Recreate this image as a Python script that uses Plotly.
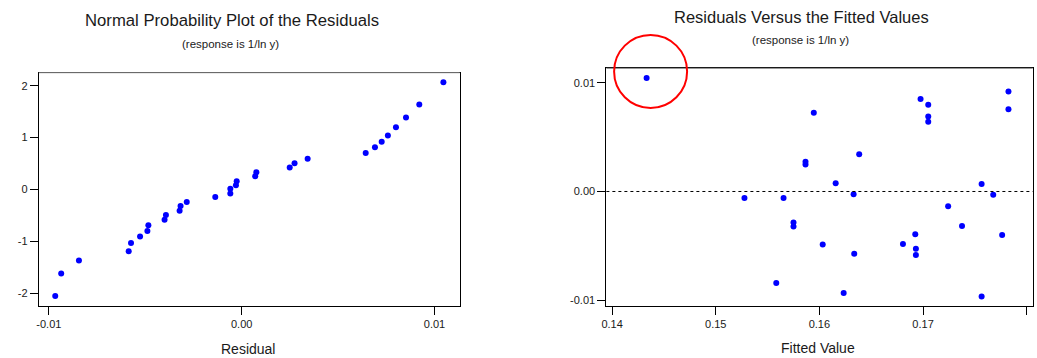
import plotly.graph_objects as go

# Residuals (sorted ascending) with the fitted value of each observation
residuals = [-0.00967, -0.00936, -0.00844, -0.00586, -0.00574, -0.00527, -0.00489,
             -0.00484, -0.00400, -0.00393, -0.00322, -0.00317, -0.00285, -0.00137,
             -0.00059, -0.00059, -0.00030, -0.00026, 0.00070, 0.00076, 0.00249,
             0.00274, 0.00342, 0.00643, 0.00691, 0.00726, 0.00758, 0.00800,
             0.00852, 0.00921, 0.01046]
fitted = [0.17565, 0.16234, 0.15584, 0.16931, 0.16336, 0.16931, 0.16032,
          0.16806, 0.17763, 0.16925, 0.15750, 0.17376, 0.15750, 0.17242,
          0.15277, 0.15654, 0.17677, 0.16330, 0.17565, 0.16157, 0.15866,
          0.15866, 0.16384, 0.17050, 0.17050, 0.15946, 0.17824, 0.17050,
          0.16976, 0.17824, 0.14333]
normal_scores = [-2.051, -1.617, -1.367, -1.188, -1.029, -0.907, -0.799, -0.690,
                 -0.581, -0.492, -0.409, -0.319, -0.243, -0.147, -0.077, 0.013,
                 0.083, 0.160, 0.256, 0.332, 0.422, 0.505, 0.594, 0.703, 0.812,
                 0.920, 1.042, 1.201, 1.387, 1.636, 2.064]

resid_ticks = [-0.01, 0.0, 0.01]
resid_labels = ["-0.01", "0.00", "0.01"]
score_ticks = [-2, -1, 0, 1, 2]
score_labels = ["-2", "-1", "0", "1", "2"]
fit_ticks = [0.14, 0.15, 0.16, 0.17, 0.18]
fit_labels = ["0.14", "0.15", "0.16", "0.17", "0.18"]

# Observation flagged with a circle (the largest residual)
flag_index = len(residuals) - 1

FONT = "Liberation Sans, Arial, sans-serif"
TEXT = "#1a1a1a"
BLUE = "#0000FF"

x1_range = [-0.01052, 0.01131]
y1_range = [-2.244, 2.25]
x2_range = [0.13945, 0.18058]
y2_range = [-0.01055, 0.01135]

fig = go.Figure()
fig.add_trace(go.Scatter(x=residuals, y=normal_scores, mode="markers",
                         marker=dict(color=BLUE, size=6), xaxis="x", yaxis="y",
                         showlegend=False, hoverinfo="x+y"))
fig.add_trace(go.Scatter(x=fitted, y=residuals, mode="markers",
                         marker=dict(color=BLUE, size=6), xaxis="x2", yaxis="y2",
                         showlegend=False, hoverinfo="x+y"))

axis_common = dict(showline=True, linecolor="black", linewidth=1, mirror=True,
                   ticks="outside", ticklen=8, tickcolor="black", tickwidth=1,
                   showgrid=False, zeroline=False, fixedrange=True,
                   tickfont=dict(family=FONT, size=11, color=TEXT))

fig.update_layout(
    width=1037, height=358,
    margin=dict(l=0, r=0, t=0, b=0),
    paper_bgcolor="white", plot_bgcolor="white",
    xaxis=dict(domain=[34 / 1037, 457 / 1037], range=x1_range, anchor="y",
               tickvals=resid_ticks, ticktext=resid_labels, **axis_common),
    yaxis=dict(domain=[0.1453, 0.797], range=y1_range, anchor="x",
               tickvals=score_ticks, ticktext=score_labels, **axis_common),
    xaxis2=dict(domain=[604.3 / 1037, 1032.7 / 1037], range=x2_range, anchor="y2",
                tickvals=fit_ticks, ticktext=fit_labels, **axis_common),
    yaxis2=dict(domain=[0.1453, 0.8092], range=y2_range, anchor="x2",
                tickvals=resid_ticks, ticktext=resid_labels, **axis_common),
)

# Titles and axis labels
def label(text, x, y, size):
    fig.add_annotation(text=text, x=x, y=y, xref="paper", yref="paper",
                       xanchor="center", yanchor="middle", showarrow=False,
                       font=dict(family=FONT, size=size, color=TEXT))

label("Normal Probability Plot of the Residuals", 0.2199, 0.9420, 16.7)
label("(response is 1/ln y)", 0.2186, 0.8771, 11.5)
label("Residuals Versus the Fitted Values", 0.7715, 0.9530, 16.5)
label("(response is 1/ln y)", 0.7705, 0.8883, 11.5)
label("Residual", 0.2358, 0.0251, 14)
label("Fitted Value", 0.7880, 0.0271, 14)

# Gray top edge of each frame
for xref, yref in (("x domain", "y domain"), ("x2 domain", "y2 domain")):
    fig.add_shape(type="line", xref=xref, yref=yref, x0=0, x1=1, y0=1, y1=1,
                  line=dict(color="#808080", width=1))

# Dotted reference line at zero residual
fig.add_shape(type="line", xref="x2 domain", yref="y2", x0=0, x1=1, y0=0, y1=0,
              line=dict(color="black", width=1, dash="dot"))

# Circle around the flagged observation (positioned from its data values)
fx = (fitted[flag_index] - x2_range[0]) / (x2_range[1] - x2_range[0])
fy = (residuals[flag_index] - y2_range[0]) / (y2_range[1] - y2_range[0])
fig.add_shape(type="circle", xref="x2 domain", yref="y2 domain",
              xsizemode="pixel", ysizemode="pixel", xanchor=fx, yanchor=fy,
              x0=-32.5, x1=40.5, y0=-30, y1=43,
              line=dict(color="#FF0000", width=2))

fig.write_html("out.html")
